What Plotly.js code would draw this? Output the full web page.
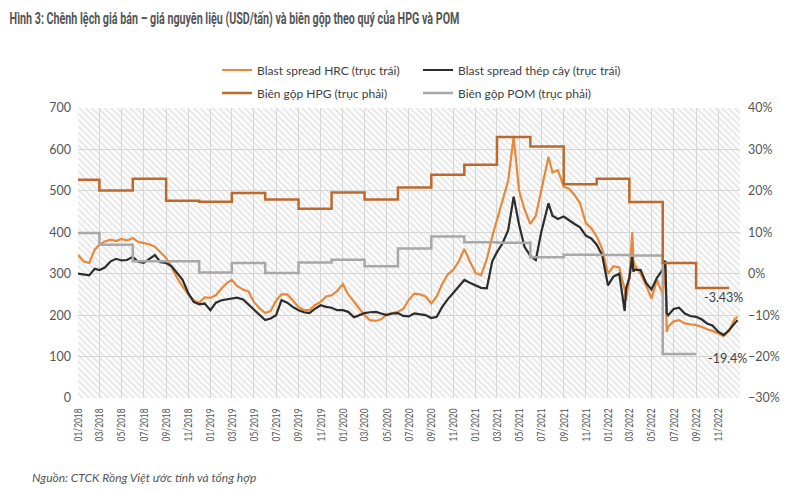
<!DOCTYPE html>
<html><head><meta charset="utf-8">
<script src="https://cdn.plot.ly/plotly-3.0.1.min.js"></script>
<style>html,body{margin:0;padding:0;background:#fff}#chart{width:800px;height:490px}</style>
</head><body><div id="chart"></div>
<script>
// Semi-monthly observations (plus a few spike dates) of the blast spreads, USD/tấn
const spreadDates = [
 '2018-01-01','2018-01-16','2018-02-01','2018-02-16','2018-03-01','2018-03-16','2018-04-01','2018-04-16','2018-05-01','2018-05-16','2018-06-01','2018-06-16','2018-07-01','2018-07-16','2018-08-01','2018-08-16','2018-09-01','2018-09-16','2018-10-01','2018-10-16','2018-11-01','2018-11-16','2018-12-01','2018-12-16',
 '2019-01-01','2019-01-16','2019-02-01','2019-02-16','2019-03-01','2019-03-16','2019-04-01','2019-04-16','2019-05-01','2019-05-16','2019-06-01','2019-06-16','2019-07-01','2019-07-16','2019-08-01','2019-08-16','2019-09-01','2019-09-16','2019-10-01','2019-10-16','2019-11-01','2019-11-16','2019-12-01','2019-12-16',
 '2020-01-01','2020-01-16','2020-02-01','2020-02-16','2020-03-01','2020-03-16','2020-04-01','2020-04-16','2020-05-01','2020-05-16','2020-06-01','2020-06-16','2020-07-01','2020-07-16','2020-08-01','2020-08-16','2020-09-01','2020-09-16','2020-10-01','2020-10-16','2020-11-01','2020-11-16','2020-12-01','2020-12-16',
 '2021-01-01','2021-01-16','2021-02-01','2021-02-16','2021-03-01','2021-03-16','2021-04-01','2021-04-16','2021-05-01','2021-05-16','2021-06-01','2021-06-16','2021-07-01','2021-07-16','2021-07-21','2021-08-01','2021-08-16','2021-09-01','2021-09-16','2021-10-01','2021-10-16','2021-11-01','2021-11-16','2021-12-01','2021-12-16',
 '2022-01-01','2022-01-16','2022-02-01','2022-02-16','2022-02-20','2022-03-01','2022-03-09','2022-03-12','2022-03-16','2022-04-01','2022-04-16','2022-05-01','2022-05-16','2022-06-01','2022-06-08','2022-06-12','2022-06-16','2022-07-01','2022-07-16','2022-08-01','2022-08-16','2022-09-01','2022-09-16','2022-10-01','2022-10-16','2022-11-01','2022-11-16','2022-12-01','2022-12-16','2022-12-24'
];
const hrcSpread = [
 345,330,326,358,370,378,382,379,384,380,386,377,374,371,365,352,338,316,290,270,250,236,230,243,
 242,248,265,278,285,270,262,257,232,217,205,210,235,250,250,236,220,212,212,224,232,245,248,258,
 275,250,232,218,200,188,186,190,202,205,208,215,237,252,250,245,228,245,275,298,310,330,360,330,
 302,296,335,390,430,470,525,630,500,455,420,440,500,560,582,545,550,510,505,490,470,422,410,390,360,
 300,318,315,262,237,290,400,333,320,300,272,240,285,250,322,160,172,185,188,180,178,176,172,166,162,155,150,162,190,196
];
const rebarSpread = [
 300,298,296,312,309,315,330,336,332,333,341,329,326,335,345,328,326,318,302,286,253,232,226,228,
 212,230,236,238,240,242,238,226,214,200,188,192,200,236,230,220,212,207,205,215,224,220,218,212,
 212,208,195,200,205,207,208,204,200,204,205,198,197,204,202,200,193,196,220,238,254,270,285,278,
 272,266,265,330,352,373,405,486,418,365,343,333,400,450,470,440,432,438,428,420,412,392,385,370,345,
 272,293,300,210,265,290,341,305,310,309,278,262,290,310,332,205,200,215,218,204,198,196,190,180,175,160,152,164,180,188
];
// Quarterly gross margins (%), step change dates
const quarterDates = ['2018-01-01','2018-03-01','2018-06-01','2018-09-01','2018-12-01','2019-03-01','2019-06-01','2019-09-01','2019-12-01','2020-03-01','2020-06-01','2020-09-01','2020-12-01','2021-03-01','2021-06-01','2021-09-01','2021-12-01','2022-03-01','2022-06-01','2022-09-01','2022-12-01'];
const hpgMargin = [22.7,20.1,22.9,17.6,17.4,19.5,17.9,15.7,19.6,17.9,20.8,23.9,26.3,33.0,30.7,21.6,22.9,17.3,2.6,-3.43,-3.43];
const pomMargin = [9.8,7.0,3.0,3.0,0.3,2.6,0.2,2.7,3.4,1.8,6.1,9.0,7.6,7.5,4.0,4.6,4.5,4.4,-19.4,-19.4];
const seriesNames = ['Blast spread HRC (trục trái)','Blast spread thép cây (trục trái)','Biên gộp HPG (trục phải)','Biên gộp POM (trục phải)'];
const endLabels = ['-3.43%','-19.4%'];

const C = {hrc:'#E8893A', rebar:'#2d2d2d', hpg:'#BC6A2C', pom:'#A8A8A8', text:'#555555'};
const baseFont = 'Lato, "Open Sans", "Noto Sans", sans-serif';
const titleFont = 'Roboto, "Noto Sans", sans-serif';

const traces = [
  {x: quarterDates.slice(0, pomMargin.length), y: pomMargin, name: seriesNames[3], yaxis:'y2', type:'scatter', mode:'lines',
   line:{color:C.pom, width:2.5, shape:'hv'}, legend:'legend2', legendgroup:'g4', legendrank:2},
  {x: quarterDates, y: hpgMargin, name: seriesNames[2], yaxis:'y2', type:'scatter', mode:'lines',
   line:{color:C.hpg, width:2.5, shape:'hv'}, legend:'legend', legendgroup:'g3', legendrank:2},
  {x: spreadDates, y: hrcSpread, name: seriesNames[0], type:'scatter', mode:'lines',
   line:{color:C.hrc, width:2.2}, legend:'legend', legendgroup:'g1', legendrank:1},
  {x: spreadDates, y: rebarSpread, name: seriesNames[1], type:'scatter', mode:'lines',
   line:{color:C.rebar, width:2.2}, legend:'legend2', legendgroup:'g2', legendrank:1}
];

const hatch = "<svg xmlns='http://www.w3.org/2000/svg' width='662' height='290'><defs><pattern id='h' width='4.5' height='4.5' patternUnits='userSpaceOnUse' patternTransform='rotate(-45)'><rect width='4.5' height='4.5' fill='#fcfcfc'/><line x1='0.8' y1='0' x2='0.8' y2='4.5' stroke='#e0e0e0' stroke-width='1.3'/></pattern></defs><rect width='662' height='290' fill='url(#h)'/></svg>";

const legendCommon = {orientation:'v', xref:'container', yref:'container', xanchor:'left', yanchor:'middle',
  font:{family:baseFont, size:12, color:'#404040'}, bgcolor:'rgba(0,0,0,0)', borderwidth:0,
  tracegroupgap:4, itemwidth:30};

const layout = {
  width:800, height:490,
  margin:{l:78, r:60, t:108, b:92, autoexpand:false},
  paper_bgcolor:'#ffffff', plot_bgcolor:'rgba(0,0,0,0)',
  title:{text:'<b>Hình 3: Chênh lệch giá bán – giá nguyên liệu (USD/tấn) và biên gộp theo quý của HPG và POM</b>',
    x:0.012, xanchor:'left', xref:'container', y:1-18/490, yanchor:'middle', yref:'container',
    font:{family:titleFont, size:16.5, color:C.text}, automargin:false},
  showlegend:true,
  legend: Object.assign({}, legendCommon, {x:217/800, y:1-81.5/490}),
  legend2: Object.assign({}, legendCommon, {x:418/800, y:1-81.5/490}),
  xaxis:{type:'date', range:['2018-01-01','2022-12-31'], tick0:'2018-01-01', dtick:'M2', tickformat:'%m/%Y',
    tickangle:-90, tickfont:{family:baseFont, size:12, color:C.text}, showgrid:true, gridcolor:'#d6d6d6', gridwidth:1,
    zeroline:false, showline:false, ticks:'', ticklabelstandoff:7, automargin:false},
  yaxis:{range:[0,700], dtick:100, tick0:0, tickfont:{family:baseFont, size:12.5, color:C.text}, showgrid:true,
    gridcolor:'#d6d6d6', gridwidth:1, zeroline:false, showline:false, ticks:'', ticklabelstandoff:6, automargin:false},
  yaxis2:{range:[-30,40], dtick:10, tick0:0, ticksuffix:'%', overlaying:'y', side:'right',
    tickfont:{family:baseFont, size:12.5, color:C.text}, showgrid:false, zeroline:false, showline:false, ticks:'', ticklabelstandoff:7, automargin:false},
  images:[{source:'data:image/svg+xml;charset=utf-8,' + encodeURIComponent(hatch), xref:'paper', yref:'paper',
    x:0, y:1, sizex:1, sizey:1, xanchor:'left', yanchor:'top', sizing:'stretch', layer:'below'}],
  annotations:[
    {x:'2022-11-16', y:-5.8, xref:'x', yref:'y2', text:endLabels[0], showarrow:false,
     font:{family:baseFont, size:12.5, color:'#404040'}},
    {x:'2022-11-27', y:-20.5, xref:'x', yref:'y2', text:endLabels[1], showarrow:false,
     font:{family:baseFont, size:12.5, color:'#404040'}},
    {x:(30-78)/662, y:(398-477)/290, xref:'paper', yref:'paper', xanchor:'left', yanchor:'middle', showarrow:false,
     text:'Nguồn: CTCK Rồng Việt ước tính và tổng hợp', font:{family:baseFont, size:12, color:C.text, style:'italic'}}
  ]
};

function condense(el, targetWidth) {
  var w = el.getBBox().width;
  if (!w) return;
  var s = targetWidth / w;
  var x0 = parseFloat(el.getAttribute('x')) || 0;
  el.setAttribute('transform', 'translate(' + (x0 * (1 - s)) + ',0) scale(' + s + ',1)');
}

Plotly.newPlot('chart', traces, layout, {displayModeBar:false, staticPlot:true}).then(function(gd){
  // condensed look of the original typography
  var t = gd.querySelector('.gtitle');
  if (t) condense(t, 450);
  gd.querySelectorAll('.xtick text').forEach(function(el){
    el.setAttribute('textLength', '33'); el.setAttribute('lengthAdjust', 'spacingAndGlyphs');
  });
});
</script>
</body></html>
